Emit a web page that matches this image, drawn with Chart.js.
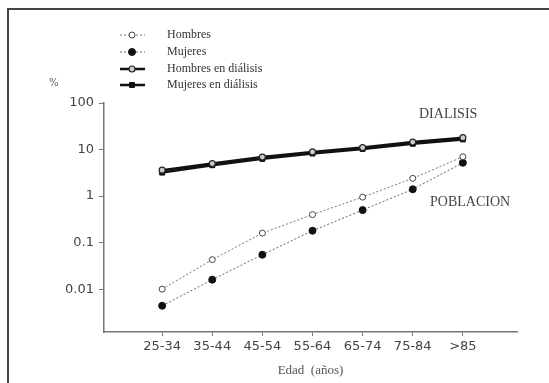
<!DOCTYPE html>
<html>
<head>
<meta charset="utf-8">
<script src="https://cdn.jsdelivr.net/npm/chart.js@4/dist/chart.umd.min.js"></script>
<style>
html,body{margin:0;padding:0;background:#fff;overflow:hidden;}
canvas{display:block;}
</style>
</head>
<body>
<canvas id="c" width="549" height="383"></canvas>
<script>
const categories = ['25-34','35-44','45-54','55-64','65-74','75-84','>85'];
const hombres = [0.010, 0.043, 0.16, 0.40, 0.95, 2.4, 7.0];
const mujeres = [0.0044, 0.016, 0.055, 0.18, 0.5, 1.4, 5.2];
const hombresDialisis = [3.6, 5.0, 6.9, 8.9, 11.0, 14.5, 18.0];
const mujeresDialisis = [3.2, 4.6, 6.3, 8.2, 10.3, 13.3, 16.5];
const yTicks = [100, 10, 1, 0.1, 0.01];
const seriesNames = ['Hombres', 'Mujeres', 'Hombres en diálisis', 'Mujeres en diálisis'];

const toPts = arr => arr.map((v, i) => ({x: i, y: v}));

const datasets = [
  {label: seriesNames[0], data: toPts(hombres), borderColor: '#777', borderWidth: 1, borderDash: [2, 2],
   pointStyle: 'circle', pointRadius: 3, pointBackgroundColor: '#fff', pointBorderColor: '#444', pointBorderWidth: 1},
  {label: seriesNames[1], data: toPts(mujeres), borderColor: '#666', borderWidth: 1, borderDash: [2, 2],
   pointStyle: 'circle', pointRadius: 3.5, pointBackgroundColor: '#111', pointBorderColor: '#111', pointBorderWidth: 1},
  {label: seriesNames[2], data: toPts(hombresDialisis), borderColor: '#111', borderWidth: 2.5,
   pointStyle: 'circle', pointRadius: 3, pointBackgroundColor: '#ccc', pointBorderColor: '#222', pointBorderWidth: 1.2},
  {label: seriesNames[3], data: toPts(mujeresDialisis), borderColor: '#111', borderWidth: 2.5,
   pointStyle: 'rect', pointRadius: 3.5, pointBackgroundColor: '#111', pointBorderColor: '#111', pointBorderWidth: 1}
];
datasets.forEach((d, i) => { d.order = i; d.tension = 0; d.fill = false; });

const legendRows = [35, 52, 69, 85];

const frame = {
  id: 'frame',
  beforeDraw(chart) {
    const ctx = chart.ctx;
    ctx.save();
    ctx.fillStyle = '#fff';
    ctx.fillRect(0, 0, chart.width, chart.height);
    ctx.strokeStyle = '#444';
    ctx.lineWidth = 2;
    ctx.beginPath();
    ctx.moveTo(8, chart.height + 5);
    ctx.lineTo(8, 9);
    ctx.lineTo(chart.width + 5, 9);
    ctx.stroke();
    ctx.restore();
  }
};

const annot = {
  id: 'annot',
  afterDraw(chart) {
    const ctx = chart.ctx;
    ctx.save();
    chart.data.datasets.forEach((d, i) => {
      const y = legendRows[i];
      ctx.beginPath();
      ctx.strokeStyle = d.borderColor;
      ctx.lineWidth = d.borderWidth;
      ctx.setLineDash(d.borderDash || []);
      ctx.moveTo(120, y); ctx.lineTo(145, y);
      ctx.stroke();
      ctx.setLineDash([]);
      ctx.fillStyle = d.pointBackgroundColor;
      ctx.strokeStyle = d.pointBorderColor;
      ctx.lineWidth = d.pointBorderWidth;
      Chart.helpers.drawPoint(ctx, {pointStyle: d.pointStyle, radius: d.pointRadius, borderWidth: d.pointBorderWidth}, 132, y);
      ctx.fillStyle = '#333';
      ctx.font = '12px "Liberation Serif"';
      ctx.textAlign = 'left';
      ctx.textBaseline = 'middle';
      ctx.fillText(d.label, 167, y);
    });
    ctx.fillStyle = '#444';
    ctx.font = '14px "Liberation Serif"';
    ctx.textBaseline = 'middle';
    ctx.fillText('DIALISIS', 419, 114);
    ctx.fillText('POBLACION', 430, 202);
    ctx.font = '10px "DejaVu Sans"';
    ctx.fillStyle = '#666';
    ctx.fillText('%', 49, 83);
    ctx.restore();
  }
};

new Chart(document.getElementById('c'), {
  type: 'line',
  data: {datasets},
  plugins: [frame, annot],
  options: {
    responsive: false,
    animation: false,
    layout: {padding: {top: 103, right: 32, left: 0, bottom: 0}},
    plugins: {legend: {display: false}, tooltip: {enabled: false}},
    scales: {
      x: {
        type: 'linear', min: -1.16, max: 7.08,
        afterBuildTicks: s => { s.ticks = categories.map((c, i) => ({value: i})); },
        afterFit: s => { s.height = 51; },
        ticks: {callback: v => categories[v], color: '#444', font: {family: 'DejaVu Sans', size: 13}, padding: 3, maxRotation: 0, autoSkip: false},
        grid: {drawOnChartArea: false, drawTicks: true, tickLength: 4, color: '#777'},
        border: {display: true, color: '#777', width: 1.5},
        title: {display: true, text: 'Edad  (años)', color: '#555', font: {family: 'Liberation Serif', size: 13}, padding: {top: 4, bottom: 5}}
      },
      y: {
        type: 'logarithmic', min: 0.0012, max: 100,
        afterBuildTicks: s => { s.ticks = yTicks.map(v => ({value: v})); },
        afterFit: s => { s.width = 104; },
        ticks: {callback: v => String(v), color: '#444', font: {family: 'DejaVu Sans', size: 13}, padding: 5, autoSkip: false},
        grid: {drawOnChartArea: false, drawTicks: true, tickLength: 5, color: '#777'},
        border: {display: true, color: '#777', width: 1.5}
      }
    }
  }
});
</script>
</body>
</html>
